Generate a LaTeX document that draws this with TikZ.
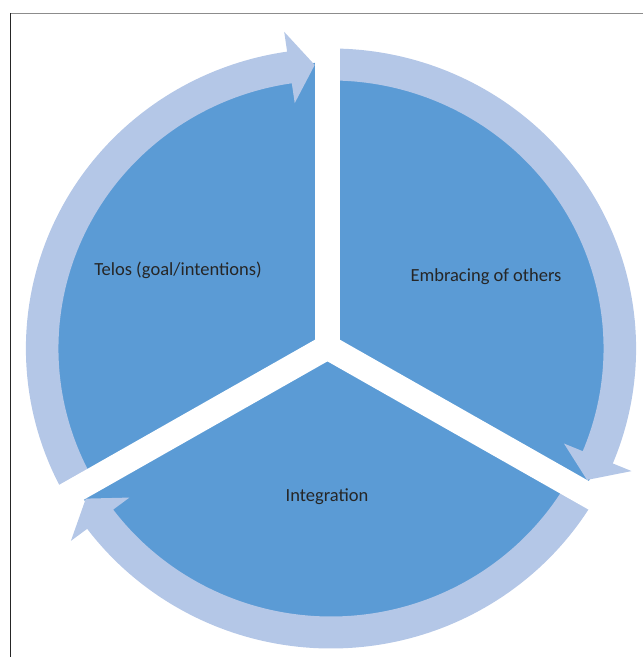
\documentclass[tikz,border=0pt]{standalone}
\usepackage{fontspec}
\setmainfont{Carlito}
\begin{document}
\definecolor{segfill}{RGB}{91,155,213}
\definecolor{ringfill}{RGB}{180,199,231}
\definecolor{labeltext}{RGB}{38,38,38}
\begin{tikzpicture}[x=1pt,y=1pt,
  segment/.style={fill=segfill},
  ringarrow/.style={fill=ringfill},
  gapband/.style={draw=white,line width=25pt},
  label/.style={text=labeltext,font=\fontsize{18.5}{22}\selectfont,inner sep=0pt}]
\useasboundingbox (0,0) rectangle (643,657);
% frame lines
\draw[gray!90,line width=1.3pt] (10,643.5) -- (643,643.5);
\draw[black!85,line width=1pt] (10.5,643.5) -- (10.5,0);
\begin{scope}[shift={(331pt,308.5pt)},x=1.017pt,y=1pt]
  \coordinate (hub) at (-3.5,1.5);
  % pie
  \fill[segment] (0,0) circle (286);
  % curved arrows around the pie (clockwise)
  \fill[ringarrow] (210:300) arc[start angle=210,end angle=98.27,radius=300]
    -- (98.27:320) -- (93.23:284) -- (98.27:248) -- (98.27:268)
    arc[start angle=98.27,end angle=210,radius=268] -- cycle;
  \fill[ringarrow] (90:300) arc[start angle=90,end angle=-22.53,radius=300]
    -- (-22.53:320) -- (-27.57:284) -- (-22.53:248) -- (-22.53:268)
    arc[start angle=-22.53,end angle=90,radius=268] -- cycle;
  \fill[ringarrow] (-30:300) arc[start angle=-30,end angle=-143.05,radius=300]
    -- (-143.05:320) -- (-148.09:284) -- (-143.05:248) -- (-143.05:268)
    arc[start angle=-143.05,end angle=-30,radius=268] -- cycle;
  % white gaps between the segments
  \draw[gapband] (hub) -- ++(90:330);
  \draw[gapband] (hub) -- ++(210:330);
  \draw[gapband] (hub) -- ++(330:330);
  \fill[white] (hub) circle (12.5);
\end{scope}
\node[label] (telos) at (178,387) {Telos (goal/intentions)};
\node[label] (embrace) at (486,380) {Embracing of others};
\node[label] (integ) at (327,160) {Integration};
\end{tikzpicture}
\end{document}
